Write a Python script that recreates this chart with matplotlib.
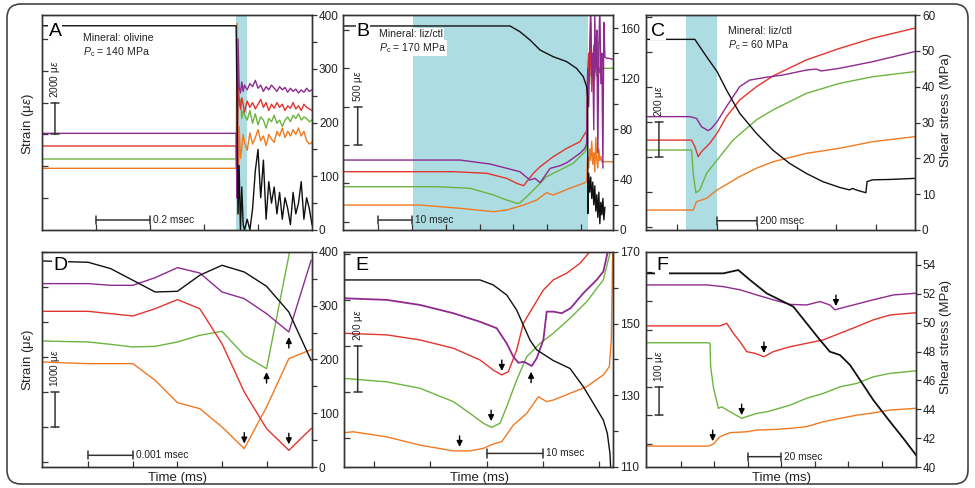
import matplotlib
matplotlib.use('Agg')
import matplotlib.pyplot as plt
from matplotlib.patches import FancyBboxPatch
from matplotlib.ticker import FixedLocator

plt.rcParams['font.family'] = ['Liberation Sans', 'DejaVu Sans']
plt.rcParams['mathtext.fontset'] = 'custom'
plt.rcParams['mathtext.rm'] = 'Liberation Sans'
plt.rcParams['mathtext.it'] = 'Liberation Sans:italic'
plt.rcParams['mathtext.bf'] = 'Liberation Sans:bold'

PURPLE = '#8E2A8F'
RED = '#E2352D'
GREEN = '#6DB43F'
ORANGE = '#F07A22'
BLACK = '#111111'
SHADE = '#ADDCE3'
AXC = '#333333'

# ---------------- Panel A (olivine, 140 MPa) ----------------
A_t = [0, 0.715, 0.719, 0.722, 0.726, 0.73, 0.735, 0.74, 0.745, 0.75,
       0.76, 0.77, 0.78, 0.79, 0.80, 0.81, 0.82, 0.83, 0.84, 0.85,
       0.86, 0.87, 0.88, 0.89, 0.90, 0.91, 0.92, 0.93, 0.94, 0.95,
       0.96, 0.97, 0.98, 0.99, 1.0]
A_purple = [6070, 6070, 6070, 2000, 12000, 9000, 8600, 9300, 8700, 9100,
            8800, 9200, 9000, 9400, 8900, 9100, 8700, 9000, 8800, 9100,
            8900, 8700, 9000, 8800, 8950, 8650, 8900, 8700, 8850, 8600,
            8800, 8650, 8900, 8700, 8800]
A_red = [5274, 5274, 5274, 3000, 9000, 8200, 7600, 8300, 7900, 7400,
         8100, 7700, 8000, 7600, 7900, 8200, 7700, 8000, 7500, 7900,
         7650, 8000, 7700, 7900, 7500, 7800, 7650, 8000, 7600, 7800,
         7500, 7900, 7700, 7600, 7500]
A_green = [4458, 4458, 4458, 5000, 10000, 7800, 8200, 7000, 7500, 7200,
           6900, 7500, 6700, 7300, 6600, 7100, 6900, 6400, 7000, 6800,
           7200, 6700, 6900, 6500, 6900, 7100, 6800, 7200, 7000, 7300,
           6900, 7100, 7000, 6800, 6900]
A_orange = [3873, 3873, 3873, 13000, 1000, 6500, 4500, 5200, 6000, 5500,
            5000, 6100, 5400, 5800, 6300, 5600, 5900, 5300, 6000, 5700,
            5500, 6200, 5900, 6400, 5800, 6200, 5900, 6300, 6000, 6400,
            5900, 6200, 5600, 5400, 5500]
A_stress = [380, 380, 380, 250, 30, 120, 0, 80, 10, 0,
            20, 0, 40, 110, 150, 60, 130, 20, 90, 50,
            80, 30, 70, 20, 60, 40, 10, 70, 30, 50,
            90, 20, 60, 40, 10]
A_shade = (0.718, 0.758)

# ---------------- Panel B (liz/ctl, 170 MPa) ----------------
B_post_t = [72.0, 72.3, 72.6, 72.9, 73.2, 73.5, 73.8, 74.1, 74.4, 74.7,
            75.0, 75.3, 75.6, 75.9, 76.2, 76.5, 76.8, 77.1, 77.4, 77.7,
            78.0, 78.5, 79.0, 79.5]
B_purple_t = [-0.5, 34.2, 43.1, 51.9, 54.9, 56.4, 57.9, 60.9, 63.8, 65.8, 69.7, 71.2, 71.7]
B_purple = [805, 805, 753, 653, 544, 566, 509, 697, 731, 770, 893, 958, 1023]
B_purple_post = [2000, 1500, 2300, 2800, 1900, 2200, 1200, 2700, 2000, 2500,
                 900, 2300, 2800, 1800, 2200, 700, 2600, 2150, 2140, 2130,
                 2135, 2130, 2125, 2120]
B_red_t = [-0.5, 32.2, 42.1, 48.0, 51.0, 53.0, 55.9, 57.9, 61.8, 65.8, 69.7, 71.2, 71.7]
B_red = [653, 653, 632, 566, 501, 470, 632, 718, 849, 958, 1044, 1154, 1180]
B_red_post = [1950, 2200, 1900, 2600, 1700, 2050, 2300, 1950, 2000, 2400,
              1800, 2000, 1950, 2050, 2000]
B_green_t = [-0.5, 27.3, 37.2, 44.1, 48.0, 51.0, 51.9, 53.9, 56.9, 59.8, 63.8, 67.7, 71.2, 71.7]
B_green = [457, 457, 436, 349, 283, 240, 245, 326, 457, 588, 675, 762, 914, 950]
B_green_post = [1900, 2100, 1800, 2300, 2000, 1950, 2200, 1850, 2100, 1900,
                2350, 2000, 1950, 2050, 1980, 2010, 2000, 2005, 2000, 2003,
                2000, 2003, 2003, 2003]
B_orange_t = [-0.5, 22.3, 34.2, 44.1, 48.0, 53.0, 56.9, 59.8, 61.8, 66.7, 71.2, 71.7]
B_orange = [218, 218, 175, 131, 153, 218, 283, 379, 349, 436, 509, 530]
B_orange_post = [850, 700, 950, 800, 1050, 750, 900, 650, 1100, 800,
                 700, 950, 800, 850, 780, 790, 785, 780, 783, 783,
                 783, 783, 783, 783]
B_stress_t = [-0.5, 49.0, 51.9, 54.9, 57.9, 61.8, 65.8, 68.7, 70.7, 71.7, 72.0, 72.05]
B_stress = [161.8, 161.8, 157.3, 150.7, 142.7, 137.4, 133.5, 128.2, 121.6, 113.6, 105, 13]
B_stress_post = [45, 30, 42, 25, 38, 20, 35, 15, 28, 10, 30, 5, 22, 12, 25, 8, 18]
B_shade = (20.15, 72.2)

# ---------------- Panel C (liz/ctl, 60 MPa) ----------------
C_stress_t = [-157, 88.7, 147.2, 200.5, 247.5, 314, 398, 481, 565, 649, 732, 816,
              866, 882, 899, 949, 955, 982, 1066, 1192]
C_stress = [53.2, 53.2, 48.4, 44.2, 39.1, 32.6, 27.0, 22.3, 18.6, 15.8, 13.5, 11.9,
            11.2, 11.6, 11.2, 10.4, 13.5, 14.0, 14.1, 14.4]
C_purple_t = [-157, 63.7, 97.2, 122.3, 155.8, 172.5, 200.5, 247.5, 314, 364.2, 447.8,
              531.3, 648.6, 698.6, 723.7, 815.6, 982.6, 1192]
C_purple = [629, 629, 619, 571, 549, 562, 600, 686, 800, 838, 854, 867, 895, 901, 890,
            905, 943, 1000]
C_red_t = [-157, 72.2, 88.9, 105.6, 122.3, 164.1, 200.5, 247.5, 314, 398, 481, 649, 816, 983, 1192]
C_red = [495, 495, 457, 400, 429, 477, 534, 629, 724, 800, 861, 953, 1019, 1077, 1134]
C_green_t = [-157, 72.2, 80.2, 93.6, 113.7, 147.2, 200.5, 280.7, 398, 481, 649, 816, 983, 1192]
C_green = [438, 438, 305, 194, 210, 305, 381, 495, 610, 667, 762, 819, 857, 886]
C_orange_t = [-157, 80.2, 97.2, 147.2, 200.5, 314, 398, 481, 649, 816, 983, 1192]
C_orange = [95, 95, 143, 162, 210, 286, 334, 371, 419, 448, 486, 514]
C_shade = (42, 200)

# ---------------- Panel D (zoom of A) ----------------
D_t = [-0.001, -0.0005, 0.0, 0.0005, 0.001, 0.0015, 0.002, 0.0025, 0.003,
       0.0035, 0.004, 0.0045, 0.005]
D_stress = [383.3, 382, 380.8, 369.1, 347.4, 325.6, 326.9, 356.7, 375.3, 362.8, 336.2, 288.4, 198.5]
D_purple = [5105, 5105, 5105, 5057, 5057, 5276, 5562, 5410, 4867, 4676, 4248, 3724, 5771]
D_red = [4314, 4314, 4314, 4248, 4181, 4390, 4648, 4390, 3390, 2010, 962, 343, 962]
D_green = [3467, 3450, 3438, 3371, 3295, 3314, 3438, 3629, 3743, 3057, 2676, 5900, 9000]
D_orange = [2867, 2840, 2819, 2819, 2819, 2343, 1705, 1533, 1010, 390, 1581, 2962, 3219]
D_arrows = [(0.0035, 534, 'down'), (0.0045, 514, 'down'), (0.004, 2580, 'up'), (0.0045, 3580, 'up')]

# ---------------- Panel E (zoom of B) ----------------
E_stress_t = [4.67, 28.83, 31.19, 33.57, 35.34, 36.52, 37.71, 38.89, 41.85, 44.81,
              47.18, 48.95, 50.73, 51.44, 51.91, 52.03, 52.3]
E_stress = [162.2, 162.2, 160.8, 158.0, 153.8, 149.6, 145.4, 142.7, 139.7, 137.5,
            132.4, 127.8, 123.1, 119.4, 113.8, 110, 105]
E_purple_t = [4.67, 12.25, 18.17, 24.09, 28.83, 31.79, 33.57, 34.75, 35.64, 36.64, 38.01,
              38.89, 40.08, 40.67, 41.85, 43.33, 44.92, 47.18, 49.55, 50.73, 51.33, 51.8]
E_purple = [606, 599, 577, 541, 504, 476, 410, 352, 326, 330, 312,
            345, 425, 548, 548, 541, 563, 628, 686, 722, 787, 838]
E_red_t = [4.67, 12.25, 18.17, 24.09, 28.83, 31.19, 32.68, 33.86, 35.34, 36.52, 38.30,
           40.08, 41.85, 44.22, 46.59, 48.37, 49.55]
E_red = [454, 447, 425, 389, 338, 294, 273, 287, 381, 497, 570,
         642, 686, 715, 758, 809, 838]
E_green_t = [4.67, 12.25, 18.17, 24.09, 27.05, 29.41, 30.89, 32.38, 33.57, 35.34, 37.12,
             39.48, 41.85, 44.81, 47.78, 50.73, 51.91]
E_green = [258, 243, 215, 157, 106, 63, 45, 63, 135, 251, 352,
           410, 454, 519, 591, 686, 802]
E_orange_t = [4.67, 6.32, 12.25, 18.17, 24.09, 27.05, 29.41, 31.19, 32.68, 34.75,
              37.12, 39.19, 40.67, 41.85, 44.81, 47.78, 50.73, 51.8, 52.15, 52.4]
E_orange = [22, 26, 4, -32, -57, -57, -46, -27, -17, 55,
            106, 178, 157, 164, 193, 222, 273, 309, 425, 816]
E_arrows = [(32.7, 290, 'down'), (37.9, 287, 'up'), (30.8, 72, 'down'), (25.2, -40, 'down')]

# ---------------- Panel F (zoom of C) ----------------
F_stress_t = [0, 46.2, 55.1, 62.1, 72.0, 82.0, 88.0, 95.9, 103.9, 109.8, 115.8, 121.8,
              127.8, 135.7, 145.7, 153.6, 161.2]
F_stress = [53.42, 53.42, 53.65, 52.96, 52.04, 51.46, 51.11, 49.96, 48.80, 47.99, 47.76,
            47.07, 46.03, 44.64, 43.14, 41.99, 40.83]
F_purple_t = [0, 36.2, 46.2, 56.1, 66.1, 76.0, 86.0, 95.9, 103.9, 109.8, 112.8, 119.8,
              135.7, 147.7, 161.2]
F_purple = [556, 556, 550, 539, 521, 504, 488, 486, 498, 486, 469, 480, 504, 521, 527]
F_red_t = [0, 44.2, 48.2, 52.1, 56.1, 60.1, 65.1, 70.4, 76.0, 86.0, 95.9, 105.8, 115.8,
           125.8, 135.7, 145.7, 161.2]
F_red = [413, 413, 422, 387, 358, 323, 317, 305, 323, 340, 352, 364, 387, 410, 434, 451, 459]
F_green_t = [0, 37.2, 38.2, 38.6, 40.2, 43.2, 45.2, 50.1, 57.1, 60.1, 66.1, 72.0, 76.0,
             86.0, 95.9, 105.8, 115.8, 125.8, 135.7, 145.7, 161.2]
F_green = [354, 354, 352, 270, 200, 125, 130, 113, 90, 96, 107, 113, 119, 136, 160, 177,
           200, 212, 235, 247, 256]
F_orange_t = [0, 37.2, 40.2, 44.2, 50.1, 60.1, 66.1, 76.0, 86.0, 95.9, 105.8, 115.8,
              125.8, 135.7, 145.7, 161.2]
F_orange = [-7, -7, 0, 26, 40, 43, 49, 51, 55, 61, 78, 90, 101, 109, 119, 125]
F_arrows = [(113.4, 482, 'down'), (70.4, 318, 'down'), (57.1, 101, 'down'), (39.8, 10, 'down')]

# ---------------------------------------------------------------
W, H = 975, 488
fig = plt.figure(figsize=(W / 100, H / 100), dpi=100)


def ftext(x, y, s, **kw):
    fig.text(x / W, 1 - y / H, s, **kw)


def make_panel(box, xlim, xticks, ylim, yticks, y2lim, y2major, y2minor):
    l, t, r, b = box
    ax = fig.add_axes([l / W, 1 - b / H, (r - l) / W, (b - t) / H])
    ax.set_xlim(xlim)
    ax.set_ylim(ylim)
    ax.set_xticks(xticks)
    ax.set_yticks(yticks)
    ax.tick_params(axis='both', direction='in', length=4.5, width=0.9, color=AXC,
                   labelleft=False, labelbottom=False)
    ax2 = ax.twinx()
    ax2.set_ylim(y2lim)
    ax2.yaxis.set_major_locator(FixedLocator(y2major))
    ax2.yaxis.set_minor_locator(FixedLocator(y2minor))
    ax2.tick_params(axis='y', which='both', direction='out', length=3.5, width=0.9,
                    color=AXC, labelsize=8.5, pad=1.5, labelcolor='#222222')
    for a in (ax, ax2):
        for sp in a.spines.values():
            sp.set_linewidth(1.0)
            sp.set_color(AXC)
    return ax, ax2


def vbar(ax, x, y0, y1, label):
    ax.annotate('', xy=(x, y0), xytext=(x, y1),
                arrowprops=dict(arrowstyle='|-|, widthA=0.3, widthB=0.3', lw=1.1,
                                color=AXC, shrinkA=0, shrinkB=0))
    ax.annotate(label, xy=(x, y1), xytext=(0, 5), textcoords='offset pixels',
                rotation=90, ha='center', va='bottom', fontsize=7.3, color='#222222')


def hbar(ax, x0, x1, y, label):
    ax.annotate('', xy=(x0, y), xytext=(x1, y),
                arrowprops=dict(arrowstyle='|-|, widthA=0.3, widthB=0.3', lw=1.1,
                                color=AXC, shrinkA=0, shrinkB=0))
    ax.annotate(label, xy=(x1, y), xytext=(3, 0), textcoords='offset pixels',
                ha='left', va='center', fontsize=7.3, color='#222222')


def arrows(ax, specs):
    for x, y, d in specs:
        off = 11 if d == 'down' else -11
        ax.annotate('', xy=(x, y), xytext=(0, off), textcoords='offset pixels',
                    xycoords='data',
                    arrowprops=dict(arrowstyle='-|>, head_length=0.35, head_width=0.17',
                                    lw=1.0, color='black', shrinkA=0, shrinkB=0))


LW = 1.0
LBL = dict(fontsize=14, ha='center', va='center',
           bbox=dict(fc='white', ec='none', pad=0.5))
TXT = dict(fontsize=7.6, ha='left', va='center', color='#222222')

# ---- A ----
ax, ax2 = make_panel((42, 15, 312, 230), (0, 1.0), [0.2, 0.4, 0.6, 0.8],
                     (0, 13500), [2000, 4000, 6000, 8000, 10000, 12000],
                     (0, 400), [0, 100, 200, 300, 400], [50, 150, 250, 350])
ax.axvspan(*A_shade, color=SHADE, lw=0, zorder=0)
for s, c in ((A_orange, ORANGE), (A_green, GREEN), (A_red, RED), (A_purple, PURPLE)):
    ax.plot(A_t, s, color=c, lw=LW)
ax2.plot(A_t, A_stress, color=BLACK, lw=LW)
vbar(ax, 0.048, 6000, 8000, '2000 μ$\\varepsilon$')
hbar(ax, 0.2, 0.4, 628, '0.2 msec')
ftext(55, 31, 'A', **LBL)
ftext(83, 38, 'Mineral: olivine', **TXT)
ftext(83, 52, '$P_{\\rm c}$ = 140 MPa', **TXT)

# ---- B ----
ax, ax2 = make_panel((343, 15, 613, 230), (-0.5, 79.5), [10, 20, 30, 40, 50, 60, 70],
                     (-108, 2698), [0, 500, 1000, 1500, 2000, 2500],
                     (0, 170.5), [0, 40, 80, 120, 160], [20, 60, 100, 140])
ax.axvspan(*B_shade, color=SHADE, lw=0, zorder=0)
ax.plot(B_orange_t + B_post_t, B_orange + B_orange_post, color=ORANGE, lw=LW)
ax.plot(B_green_t + B_post_t, B_green + B_green_post, color=GREEN, lw=LW)
ax.plot(B_red_t + B_post_t[:len(B_red_post)], B_red + B_red_post, color=RED, lw=LW)
ax.plot(B_purple_t + B_post_t, B_purple + B_purple_post, color=PURPLE, lw=LW)
ax2.plot(B_stress_t + B_post_t[1:1 + len(B_stress_post)], B_stress + B_stress_post,
         color=BLACK, lw=LW)
vbar(ax, 3.86, 1000, 1500, '500 μ$\\varepsilon$')
hbar(ax, 10, 20, 22, '10 msec')
ftext(363, 31, 'B', **LBL)
ftext(379, 34, 'Mineral: liz/ctl', bbox=dict(fc='white', ec='none', pad=1), **TXT)
ftext(379, 48, '$P_{\\rm c}$ = 170 MPa', bbox=dict(fc='white', ec='none', pad=1), **TXT)

# ---- C ----
ax, ax2 = make_panel((646, 15, 915, 230), (-157, 1196), [0, 200, 400, 600, 800, 1000],
                     (-19, 1210), [0, 200, 400, 600, 800, 1000, 1200],
                     (0, 60), [0, 10, 20, 30, 40, 50, 60], [])
ax.axvspan(*C_shade, color=SHADE, lw=0, zorder=0)
ax.plot(C_orange_t, C_orange, color=ORANGE, lw=LW)
ax.plot(C_green_t, C_green, color=GREEN, lw=LW)
ax.plot(C_red_t, C_red, color=RED, lw=LW)
ax.plot(C_purple_t, C_purple, color=PURPLE, lw=LW)
ax2.plot(C_stress_t, C_stress, color=BLACK, lw=LW)
vbar(ax, -92, 400, 600, '200 μ$\\varepsilon$')
hbar(ax, 200, 400, 34, '200 msec')
ftext(658, 31, 'C', **LBL)
ftext(728, 31, 'Mineral: liz/ctl', **TXT)
ftext(728, 45, '$P_{\\rm c}$ = 60 MPa', **TXT)

# ---- D ----
ax, ax2 = make_panel((42, 252, 312, 467), (-0.00104, 0.00502),
                     [0, 0.001, 0.002, 0.003, 0.004],
                     (-134, 6009), [0, 1000, 2000, 3000, 4000, 5000, 6000],
                     (0, 400), [0, 100, 200, 300, 400], [50, 150, 250, 350])
ax.plot(D_t, D_orange, color=ORANGE, lw=LW)
ax.plot(D_t, D_green, color=GREEN, lw=LW)
ax.plot(D_t, D_red, color=RED, lw=LW)
ax.plot(D_t, D_purple, color=PURPLE, lw=LW)
ax2.plot(D_t, D_stress, color=BLACK, lw=LW)
arrows(ax, D_arrows)
vbar(ax, -0.000747, 1000, 2000, '1000 μ$\\varepsilon$')
hbar(ax, 0, 0.001, 200, '0.001 msec')
ftext(60, 266, 'D', **LBL)

# ---- E ----
ax, ax2 = make_panel((344, 252, 613, 467), (4.67, 52.45), [10, 20, 30, 40, 50],
                     (-127, 807), [0, 200, 400, 600, 800],
                     (110, 170), [110, 130, 150, 170], [120, 140, 160])
ax.plot(E_orange_t, E_orange, color=ORANGE, lw=LW)
ax.plot(E_green_t, E_green, color=GREEN, lw=LW)
ax.plot(E_red_t, E_red, color=RED, lw=LW)
ax.plot(E_purple_t, E_purple, color=PURPLE, lw=1.3)
ax2.plot(E_stress_t, E_stress, color=BLACK, lw=LW)
arrows(ax, E_arrows)
vbar(ax, 7.1, 200, 400, '200 μ$\\varepsilon$')
hbar(ax, 30, 40, -68, '10 msec')
ftext(362, 266, 'E', **LBL)

# ---- F ----
ax, ax2 = make_panel((646, 252, 916, 467), (0, 161.2),
                     [20.7, 40.7, 60.7, 80.7, 100.7, 120.7, 140.7],
                     (-80, 671), [0, 100, 200, 300, 400, 500, 600],
                     (40, 54.9), [40, 42, 44, 46, 48, 50, 52, 54], [])
ax.plot(F_orange_t, F_orange, color=ORANGE, lw=LW)
ax.plot(F_green_t, F_green, color=GREEN, lw=LW)
ax.plot(F_red_t, F_red, color=RED, lw=LW)
ax.plot(F_purple_t, F_purple, color=PURPLE, lw=LW)
ax2.plot(F_stress_t, F_stress, color=BLACK, lw=1.3)
arrows(ax, F_arrows)
vbar(ax, 7.8, 100, 200, '100 μ$\\varepsilon$')
hbar(ax, 60.7, 80.7, -44, '20 msec')
ftext(662, 266, 'F', **LBL)

# ---- shared axis labels ----
for y in (124, 360):
    ftext(28, y, 'Strain (μ$\\varepsilon$)', rotation=90, ha='center', va='center',
          fontsize=9.5, color='#222222')
for y in (110, 337):
    ftext(946, y, 'Shear stress (MPa)', rotation=90, ha='center', va='center',
          fontsize=9.5, color='#222222')
for x in (177, 480, 782):
    ftext(x, 478, 'Time (ms)', ha='center', va='center', fontsize=9.5, color='#222222')

# rounded frame around the whole figure
frame = FancyBboxPatch((0.07, 0.04), 9.61, 4.80,
                       boxstyle='round,pad=0,rounding_size=0.14',
                       transform=fig.dpi_scale_trans, fill=False, lw=1.2, ec='#444444')
fig.add_artist(frame)

fig.savefig('out.png', dpi=100)
